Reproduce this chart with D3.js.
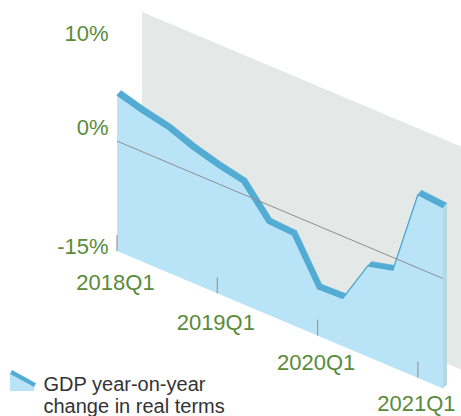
<!DOCTYPE html>
<html><head><meta charset="utf-8">
<script src="https://cdn.jsdelivr.net/npm/d3@7"></script>
<style>html,body{margin:0;padding:0;background:#fff}svg{display:block}</style>
</head><body>
<svg id="chart" width="461" height="416"></svg>
<script>
// ---- data ----
const quarters = ["2018Q1","2018Q2","2018Q3","2018Q4","2019Q1","2019Q2","2019Q3","2019Q4",
                  "2020Q1","2020Q2","2020Q3","2020Q4","2021Q1","2021Q2"];
const gdpGrowth = [4.6, 3.7, 3.0, 1.8, 0.9, 0.2, -3.5, -3.7, -9.1, -9.0, -3.6, -2.8, 8.0, 7.7];
const yTicks = [-15, 0, 10];
const yTickLabels = ["-15%", "0%", "10%"];
const xTicks = ["2018Q1", "2019Q1", "2020Q1", "2021Q1"];
const yDomain = [-15, 10];
const panelDomain = [-18, 10];
const referenceValue = -1.2;
const legendLines = ["GDP year-on-year", "change in real terms"];

// ---- layout ----
const svg = d3.select("#chart");
const FONT = "'Liberation Sans', Arial, Helvetica, sans-serif";
const GREEN = "#5a8b3b";
const x = d3.scalePoint().domain(quarters).range([117, 443]);
const y = d3.scaleLinear().domain(yDomain).range([251, 51.9]);
const skew = 0.4216;            // oblique slope of the time axis
const labelSkew = 0.4015;       // slope of the x-label row
const x0 = x(quarters[0]);
const thick = [4, -4.3];        // ribbon depth
const backOff = [25, -40];      // back panel depth
function P(q, v, off) {
  off = off || [0, 0];
  const px = x(q);
  return [px + off[0], y(v) + skew * (px - x0) + off[1]];
}
const first = quarters[0], last = quarters[quarters.length - 1];
const pts = quarters.map((q, i) => P(q, gdpGrowth[i]));
const line = d3.line();

// back panel
svg.append("path")
  .attr("d", line([P(first, panelDomain[1], backOff), P(last, panelDomain[1], backOff),
                   P(last, panelDomain[0], backOff), P(first, panelDomain[0], backOff)]) + "Z")
  .attr("fill", "#e4e8e7");

// top faces of the ribbon
const topFaces = d3.pairs(quarters.map((q, i) => ({q, v: gdpGrowth[i]})));
svg.append("g").selectAll("path").data(topFaces).join("path")
  .attr("d", ([a, b]) => line([P(a.q, a.v), P(b.q, b.v), P(b.q, b.v, thick), P(a.q, a.v, thick)]) + "Z")
  .attr("fill", "#53acd4").attr("stroke", "#53acd4").attr("stroke-width", 0.6)
  .attr("stroke-linejoin", "round");

// right side face
const lv = gdpGrowth[gdpGrowth.length - 1];
svg.append("path")
  .attr("d", line([P(last, lv), P(last, lv, thick), P(last, yDomain[0], thick), P(last, yDomain[0])]) + "Z")
  .attr("fill", "#b7d8de");

// front area
svg.append("path")
  .attr("d", line(pts.concat([P(last, yDomain[0]), P(first, yDomain[0])])) + "Z")
  .attr("fill", "#b9e4f8");

svg.append("path").attr("d", line(pts))
  .attr("fill", "none").attr("stroke", "#4fa8d0").attr("stroke-width", 1.3)
  .attr("stroke-linejoin", "round");

// reference line
svg.append("path").attr("d", line([P(first, referenceValue), P(last, referenceValue)]))
  .attr("stroke", "#8e8e8e").attr("stroke-width", 1).attr("fill", "none");

// x ticks
svg.append("g").selectAll("line").data(xTicks).join("line")
  .attr("x1", d => P(d, yDomain[0])[0]).attr("x2", d => P(d, yDomain[0])[0])
  .attr("y1", d => P(d, yDomain[0])[1]).attr("y2", d => P(d, yDomain[0])[1] - 16)
  .attr("stroke", "#9a9a9a").attr("stroke-width", 1.2);

// x labels
svg.append("g").selectAll("text").data(xTicks).join("text")
  .attr("x", d => x(d) - 1.5)
  .attr("y", d => y(yDomain[0]) + 31 + labelSkew * (x(d) - x0))
  .attr("dy", "0.36em").attr("text-anchor", "middle")
  .attr("font-family", FONT).attr("font-size", 22).attr("fill", GREEN)
  .text(d => d);

// y labels
const yLabelPos = d3.scaleLinear().domain([-15, 0, 10]).range([246.5, 127.5, 33.5]);
svg.append("g").selectAll("text").data(yTicks).join("text")
  .attr("x", 108.5).attr("y", d => yLabelPos(d))
  .attr("dy", "0.36em").attr("text-anchor", "end")
  .attr("font-family", FONT).attr("font-size", 22).attr("fill", GREEN)
  .text((d, i) => yTickLabels[i]);

// legend
const lg = svg.append("g");
lg.append("path").attr("d", "M10,374L34,387L34,391L10,391Z").attr("fill", "#b9e4f8");
lg.append("path").attr("d", "M10,374L34,387L36,383.3L12,370Z").attr("fill", "#53acd4");
lg.selectAll("text").data(legendLines).join("text")
  .attr("x", 43.5).attr("y", (d, i) => 390.7 + i * 22.6)
  .attr("font-family", FONT).attr("font-size", 20).attr("fill", "#333")
  .text(d => d);
</script>
</body></html>
